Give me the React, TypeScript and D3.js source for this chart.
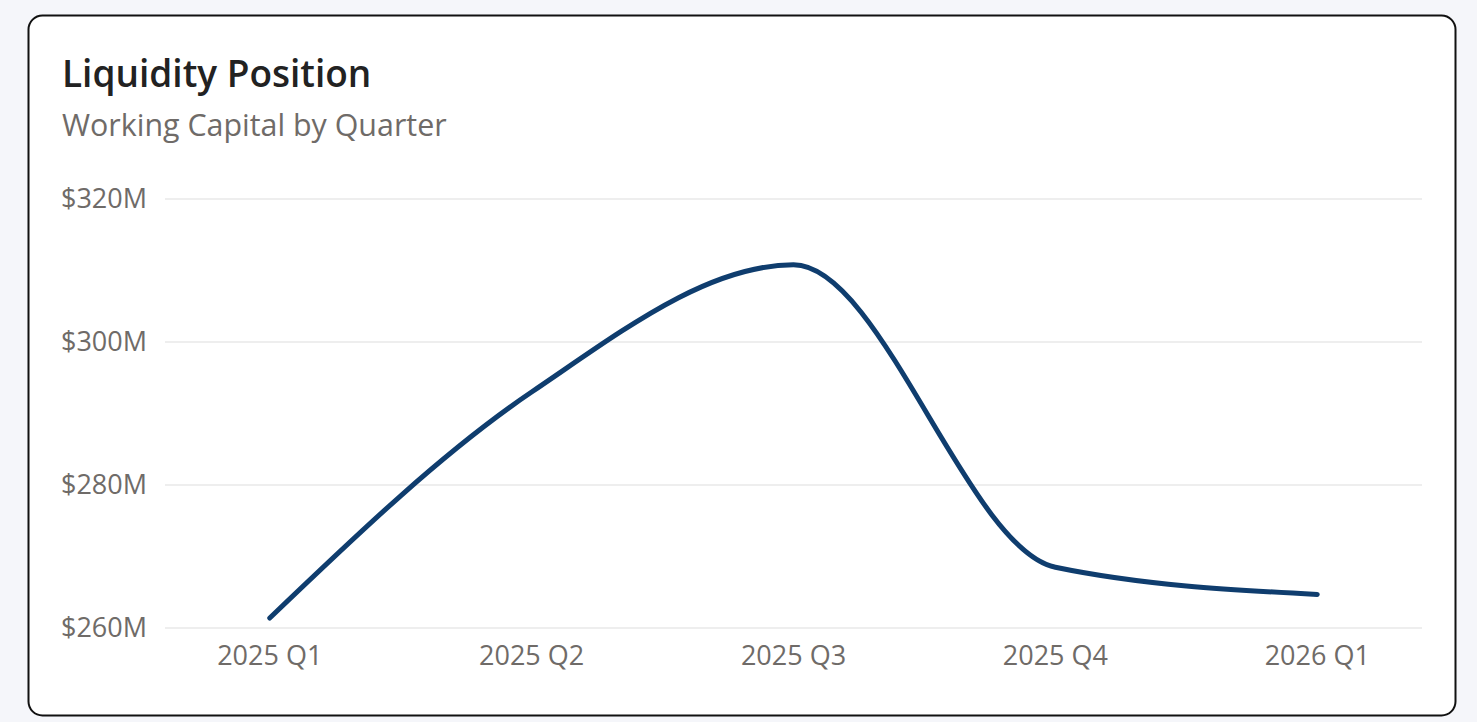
import React, { useEffect, useRef } from "react";
import * as d3 from "d3";

const quarters = ["2025 Q1", "2025 Q2", "2025 Q3", "2025 Q4", "2026 Q1"];
const workingCapital = [261.4, 293.0, 310.8, 268.5, 264.7];
const yTicks = [260, 280, 300, 320];

const W = 1477;
const H = 722;
const FONT = "'Segoe UI', 'Open Sans', 'Noto Sans', sans-serif";

export default function App() {
  const ref = useRef<SVGSVGElement>(null);

  useEffect(() => {
    const svg = d3.select(ref.current);
    svg.selectAll("*").remove();

    svg.append("rect").attr("width", W).attr("height", H).attr("fill", "#f5f6fa");

    // card
    svg.append("rect")
      .attr("x", 28.5).attr("y", 15.5)
      .attr("width", 1427).attr("height", 700)
      .attr("rx", 14)
      .attr("fill", "#ffffff")
      .attr("stroke", "#111111")
      .attr("stroke-width", 2);

    svg.append("text")
      .attr("x", 62).attr("y", 87)
      .style("font-family", FONT)
      .style("font-size", "37px")
      .style("font-weight", 600)
      .attr("fill", "#222222")
      .text("Liquidity Position");

    svg.append("text")
      .attr("x", 62).attr("y", 136)
      .style("font-family", FONT)
      .style("font-size", "30.4px")
      .attr("fill", "#6f6b68")
      .text("Working Capital by Quarter");

    const left = 165, right = 1422, top = 199, bottom = 628;

    const x = d3.scalePoint<string>().domain(quarters).range([left, right]).padding(0.4);
    const y = d3.scaleLinear().domain([260, 320]).range([bottom, top]);

    const g = svg.append("g");

    g.selectAll("line.grid").data(yTicks).enter()
      .append("line")
      .attr("class", "grid")
      .attr("x1", left).attr("x2", right)
      .attr("y1", d => y(d)).attr("y2", d => y(d))
      .attr("stroke", "#eeeeee")
      .attr("stroke-width", 2);

    g.selectAll("text.ytick").data(yTicks).enter()
      .append("text")
      .attr("class", "ytick")
      .attr("x", 147)
      .attr("y", d => y(d))
      .attr("dy", "0.35em")
      .attr("text-anchor", "end")
      .style("font-family", FONT)
      .style("font-size", "27px")
      .attr("fill", "#6f6b68")
      .text(d => `$${d}M`);

    g.selectAll("text.xtick").data(quarters).enter()
      .append("text")
      .attr("class", "xtick")
      .attr("x", d => x(d)!)
      .attr("y", 665)
      .attr("text-anchor", "middle")
      .style("font-family", FONT)
      .style("font-size", "27px")
      .attr("fill", "#6f6b68")
      .text(d => d);

    const line = d3.line<number>()
      .x((_, i) => x(quarters[i])!)
      .y(d => y(d))
      .curve(d3.curveMonotoneX);

    g.append("path")
      .datum(workingCapital)
      .attr("d", line)
      .attr("fill", "none")
      .attr("stroke", "#0f3d6e")
      .attr("stroke-width", 5)
      .attr("stroke-linecap", "round")
      .attr("stroke-linejoin", "round");
  }, []);

  return (
    <div style={{ position: "fixed", left: 0, top: 0 }}>
      <svg ref={ref} width={W} height={H}></svg>
    </div>
  );
}
